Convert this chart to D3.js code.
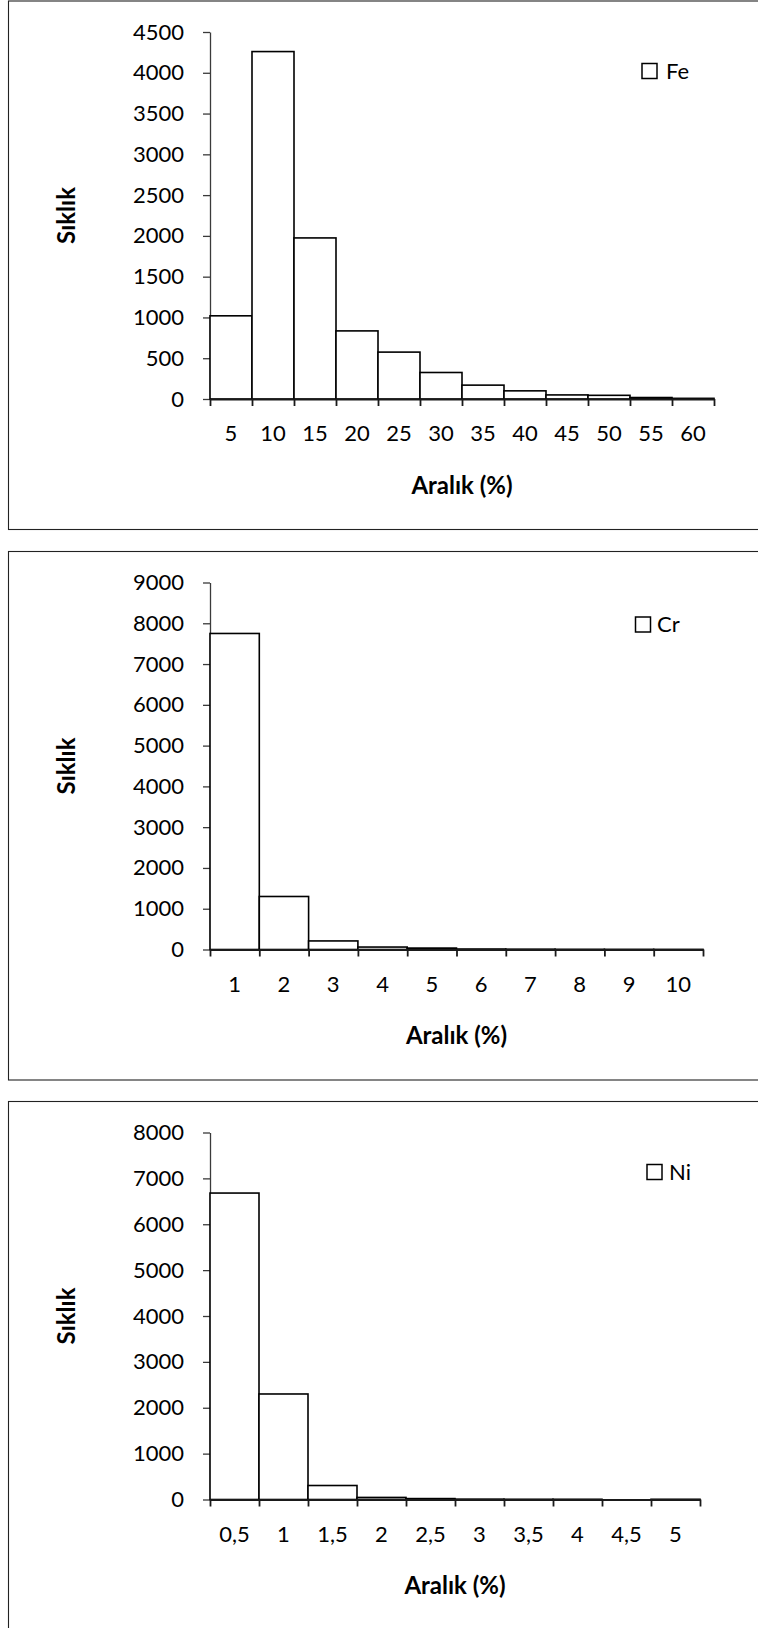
<!DOCTYPE html>
<html>
<head>
<meta charset="utf-8">
<script src="https://cdn.jsdelivr.net/npm/d3@7"></script>
<style>
  html, body { margin: 0; padding: 0; background: #fff; }
  svg { display: block; }
  text { font-family: Lato, "Open Sans", sans-serif; fill: #000; }
</style>
</head>
<body>
<svg id="chart" width="758" height="1628"></svg>
<script>
// Fe histogram
const feLabels = ["5", "10", "15", "20", "25", "30", "35", "40", "45", "50", "55", "60"];
const feValues = [1020, 4260, 1975, 835, 575, 325, 170, 100, 50, 45, 18, 8];
const feTicks = [0, 500, 1000, 1500, 2000, 2500, 3000, 3500, 4000, 4500];

// Cr histogram
const crLabels = ["1", "2", "3", "4", "5", "6", "7", "8", "9", "10"];
const crValues = [7750, 1300, 210, 60, 35, 12, 8, 5, 4, 3];
const crTicks = [0, 1000, 2000, 3000, 4000, 5000, 6000, 7000, 8000, 9000];

// Ni histogram
const niLabels = ["0,5", "1", "1,5", "2", "2,5", "3", "3,5", "4", "4,5", "5"];
const niValues = [6680, 2300, 305, 45, 20, 8, 5, 5, 0, 5];
const niTicks = [0, 1000, 2000, 3000, 4000, 5000, 6000, 7000, 8000];

const yTitle = "Sıklık";
const xTitle = "Aralık (%)";

// Panel layout: vertical offset, right end of the x axis, legend placement
const panels = [
  { name: "Fe", labels: feLabels, values: feValues, ticks: feTicks,
    top: 0.5, xEnd: 714, legend: { boxX: 642, boxY: 63, textX: 666 } },
  { name: "Cr", labels: crLabels, values: crValues, ticks: crTicks,
    top: 551, xEnd: 703, legend: { boxX: 635.5, boxY: 66, textX: 657 } },
  { name: "Ni", labels: niLabels, values: niValues, ticks: niTicks,
    top: 1101, xEnd: 700, legend: { boxX: 647, boxY: 63.5, textX: 669 } }
];

const svg = d3.select("#chart");
const FS = 22;        // tick labels and legend
const TITLE_FS = 24;  // bold axis titles
const X0 = 210, Y_ZERO = 398.5, Y_TOP = 31.5;

panels.forEach(p => {
  const g = svg.append("g").attr("transform", `translate(0,${p.top})`);

  // panel frame (right side runs off the page)
  g.append("rect")
    .attr("x", 8.5).attr("y", 0.5)
    .attr("width", 800).attr("height", 528.5)
    .attr("fill", "none").attr("stroke", "#222").attr("stroke-width", 1.1);

  const x = d3.scaleBand().domain(p.labels).range([X0, p.xEnd]).padding(0);
  const y = d3.scaleLinear().domain([0, d3.max(p.ticks)]).range([Y_ZERO, Y_TOP]);
  const xb = d3.scaleLinear().domain([0, p.labels.length]).range([X0, p.xEnd]);

  // y axis
  const ya = g.append("g").attr("transform", `translate(${X0},0)`)
    .call(d3.axisLeft(y).tickValues(p.ticks).tickSize(7).tickSizeOuter(0)
      .tickPadding(19).tickFormat(d3.format("d")));
  ya.selectAll("text").style("font-size", FS + "px").attr("fill", "#000");
  ya.selectAll("line, path").attr("stroke", "#3a3a3a").attr("stroke-width", 1.3);

  // bars
  g.selectAll("rect.bar").data(p.values).join("rect")
    .attr("class", "bar")
    .attr("x", (d, i) => x(p.labels[i]))
    .attr("y", d => y(d))
    .attr("width", x.bandwidth())
    .attr("height", d => y(0) - y(d))
    .attr("fill", "#fff")
    .attr("stroke", "#000")
    .attr("stroke-width", 1.6);

  // x axis with ticks on bin edges
  const xa = g.append("g").attr("transform", `translate(0,${Y_ZERO})`)
    .call(d3.axisBottom(xb).tickValues(d3.range(p.labels.length + 1))
      .tickSize(7).tickSizeOuter(0).tickFormat(""));
  xa.selectAll("line, path").attr("stroke", "#1a1a1a").attr("stroke-width", 1.8);

  // bin labels centred under each bar
  g.selectAll("text.xl").data(p.labels).join("text")
    .attr("class", "xl")
    .attr("x", d => x(d) + x.bandwidth() / 2)
    .attr("y", Y_ZERO + 42)
    .attr("text-anchor", "middle")
    .style("font-size", FS + "px")
    .text(d => d);

  // axis titles
  g.append("text")
    .attr("x", (X0 + p.xEnd) / 2)
    .attr("y", 493)
    .attr("text-anchor", "middle")
    .style("font-size", TITLE_FS + "px")
    .style("font-weight", "bold")
    .text(xTitle);

  g.append("text")
    .attr("transform", `translate(75,${(Y_ZERO + Y_TOP) / 2}) rotate(-90)`)
    .attr("text-anchor", "middle")
    .style("font-size", TITLE_FS + "px")
    .style("font-weight", "bold")
    .text(yTitle);

  // legend
  g.append("rect")
    .attr("x", p.legend.boxX).attr("y", p.legend.boxY)
    .attr("width", 15).attr("height", 15)
    .attr("fill", "#fff").attr("stroke", "#000").attr("stroke-width", 1.5);
  g.append("text")
    .attr("x", p.legend.textX)
    .attr("y", p.legend.boxY + 15)
    .style("font-size", FS + "px")
    .text(p.name);
});
</script>
</body>
</html>
